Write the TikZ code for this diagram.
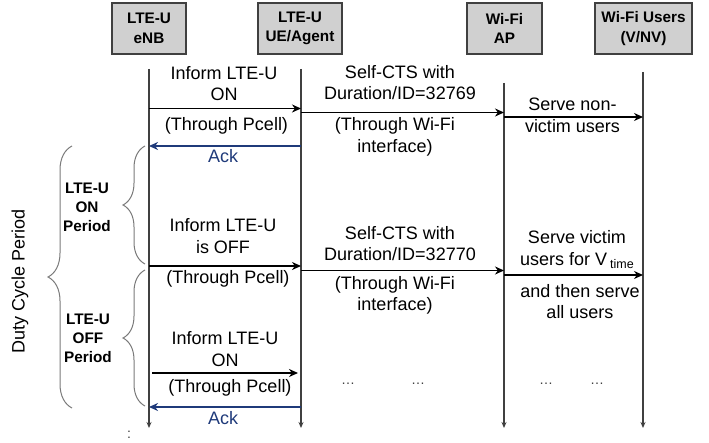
\documentclass[tikz,border=0pt]{standalone}
\usepackage{fontspec}
\setmainfont{Liberation Sans}
\usetikzlibrary{arrows.meta,decorations.pathreplacing}
\definecolor{boxfill}{HTML}{D0D0D0}
\definecolor{lifegray}{HTML}{404040}
\definecolor{ackblue}{HTML}{1F3A7A}
\definecolor{bracegray}{HTML}{7A7A7A}
\begin{document}
\begin{tikzpicture}[x=1pt,y=-1pt,
  actor/.style={draw=lifegray,line width=1.3pt,fill=boxfill,minimum height=51pt,inner sep=0pt,align=center,font=\fontsize{15.3}{19.5}\selectfont\bfseries},
  lifeline/.style={draw=lifegray,line width=1.6pt,-{Stealth[length=6pt,width=5pt]}},
  msg/.style={line width=1.8pt,-{Stealth[length=9pt,width=8pt]}},
  ackmsg/.style={draw=ackblue,line width=1.5pt,-{Stealth[length=9pt,width=8pt]}},
  lbl/.style={align=center,font=\fontsize{18}{21.5}\selectfont,inner sep=0pt},
  acklbl/.style={lbl,text=ackblue},
  blbl/.style={align=center,font=\fontsize{15.3}{19}\selectfont\bfseries,inner sep=0pt},
  brc/.style={draw=bracegray,line width=1pt,decorate,decoration={brace,amplitude=#1}},
  dots/.style={font=\fontsize{14}{14}\selectfont,text=lifegray,inner sep=0pt},
]
\useasboundingbox (0,0) rectangle (709,443);

% actors
\node[actor,minimum width=74pt] (enb) at (149,28.5) {LTE-U\\eNB};
\node[actor,minimum width=84pt] (ue) at (300,28.5) {LTE-U\\UE/Agent};
\node[actor,minimum width=75pt] (ap) at (504.5,28.5) {Wi-Fi\\AP};
\node[actor,minimum width=97pt] (wu) at (643.5,28.5) {Wi-Fi Users\\(V/NV)};

% lifelines
\coordinate (eT) at (149,69);  \coordinate (eB) at (149,428);
\coordinate (uT) at (301,69);  \coordinate (uB) at (301,428);
\coordinate (aT) at (504,83);  \coordinate (aB) at (504,428);
\coordinate (wT) at (643,72);  \coordinate (wB) at (643,428);
\draw[lifeline] (eT) -- (eB);
\draw[lifeline] (uT) -- (uB);
\draw[lifeline] (aT) -- (aB);
\draw[lifeline] (wT) -- (wB);

% message end points
\coordinate (m1s) at (149,108.5); \coordinate (m1e) at (301,108.5);
\coordinate (m2s) at (301,112.5); \coordinate (m2e) at (504,112.5);
\coordinate (m3s) at (504,117);   \coordinate (m3e) at (643,117);
\coordinate (k1s) at (301,146);   \coordinate (k1e) at (149,146);
\coordinate (m4s) at (149,266);   \coordinate (m4e) at (301,266);
\coordinate (m5s) at (301,270.5); \coordinate (m5e) at (504,270.5);
\coordinate (m6s) at (504,275);   \coordinate (m6e) at (643,275);
\coordinate (m7s) at (152,373);   \coordinate (m7e) at (298,373);
\coordinate (k2s) at (301,407);   \coordinate (k2e) at (149,407);

\draw[msg] (m1s) -- (m1e);
\draw[msg] (m2s) -- (m2e);
\draw[msg] (m3s) -- (m3e);
\draw[ackmsg] (k1s) -- (k1e);
\draw[msg] (m4s) -- (m4e);
\draw[msg] (m5s) -- (m5e);
\draw[msg] (m6s) -- (m6e);
\draw[msg] (m7s) -- (m7e);
\draw[ackmsg] (k2s) -- (k2e);

% labels first round
\node[lbl] (t1) at (224,83.5) {Inform LTE-U\\ON};
\node[lbl] (t1b) at (226.5,126) {(Through Pcell)};
\node[lbl] (t2) at (400,82.5) {Self-CTS with\\Duration/ID=32769};
\node[lbl] (t2b) at (395,137) {(Through Wi-Fi\\interface)};
\node[lbl] (t3) at (572.5,115.5) {Serve non-\\victim users};
\node[acklbl] (a1) at (223,156) {Ack};

% labels second round
\node[lbl] (t4) at (223,236) {Inform LTE-U\\is OFF};
\node[lbl] (t4b) at (228,279) {(Through Pcell)};
\node[lbl] (t5) at (400,243.5) {Self-CTS with\\Duration/ID=32770};
\node[lbl] (t5b) at (395,295.5) {(Through Wi-Fi\\interface)};
\node[lbl] (t6) at (577,249.5) {Serve victim\\users for V\,\raisebox{-0.35ex}{\fontsize{12.5}{12.5}\selectfont time}};
\node[lbl] (t6b) at (580,301.5) {and then serve\\all users};

% labels third round
\node[lbl] (t7) at (225,349) {Inform LTE-U\\ON};
\node[lbl] (t7b) at (230,388) {(Through Pcell)};
\node[acklbl] (a2) at (223,418) {Ack};

% continuation dots
\node[dots] (d1) at (348,384) {\ldots};
\node[dots] (d2) at (418,384) {\ldots};
\node[dots] (d3) at (546,384) {\ldots};
\node[dots] (d4) at (597,384) {\ldots};
\node[dots] (d5) at (129,435) {:};

% braces
\coordinate (bigT) at (72,146);  \coordinate (bigB) at (72,408);
\coordinate (onT) at (145,146);  \coordinate (onB) at (145,264);
\coordinate (offT) at (145,270); \coordinate (offB) at (145,406);
\draw[brc=24pt] (bigB) -- (bigT);
\draw[brc=22pt] (onB) -- (onT);
\draw[brc=22pt] (offB) -- (offT);

\node[lbl,rotate=90] (duty) at (20,281) {Duty Cycle Period};
\node[blbl] (onp) at (87,207) {LTE-U\\ON\\Period};
\node[blbl] (offp) at (88,338.5) {LTE-U\\OFF\\Period};
\end{tikzpicture}
\end{document}
